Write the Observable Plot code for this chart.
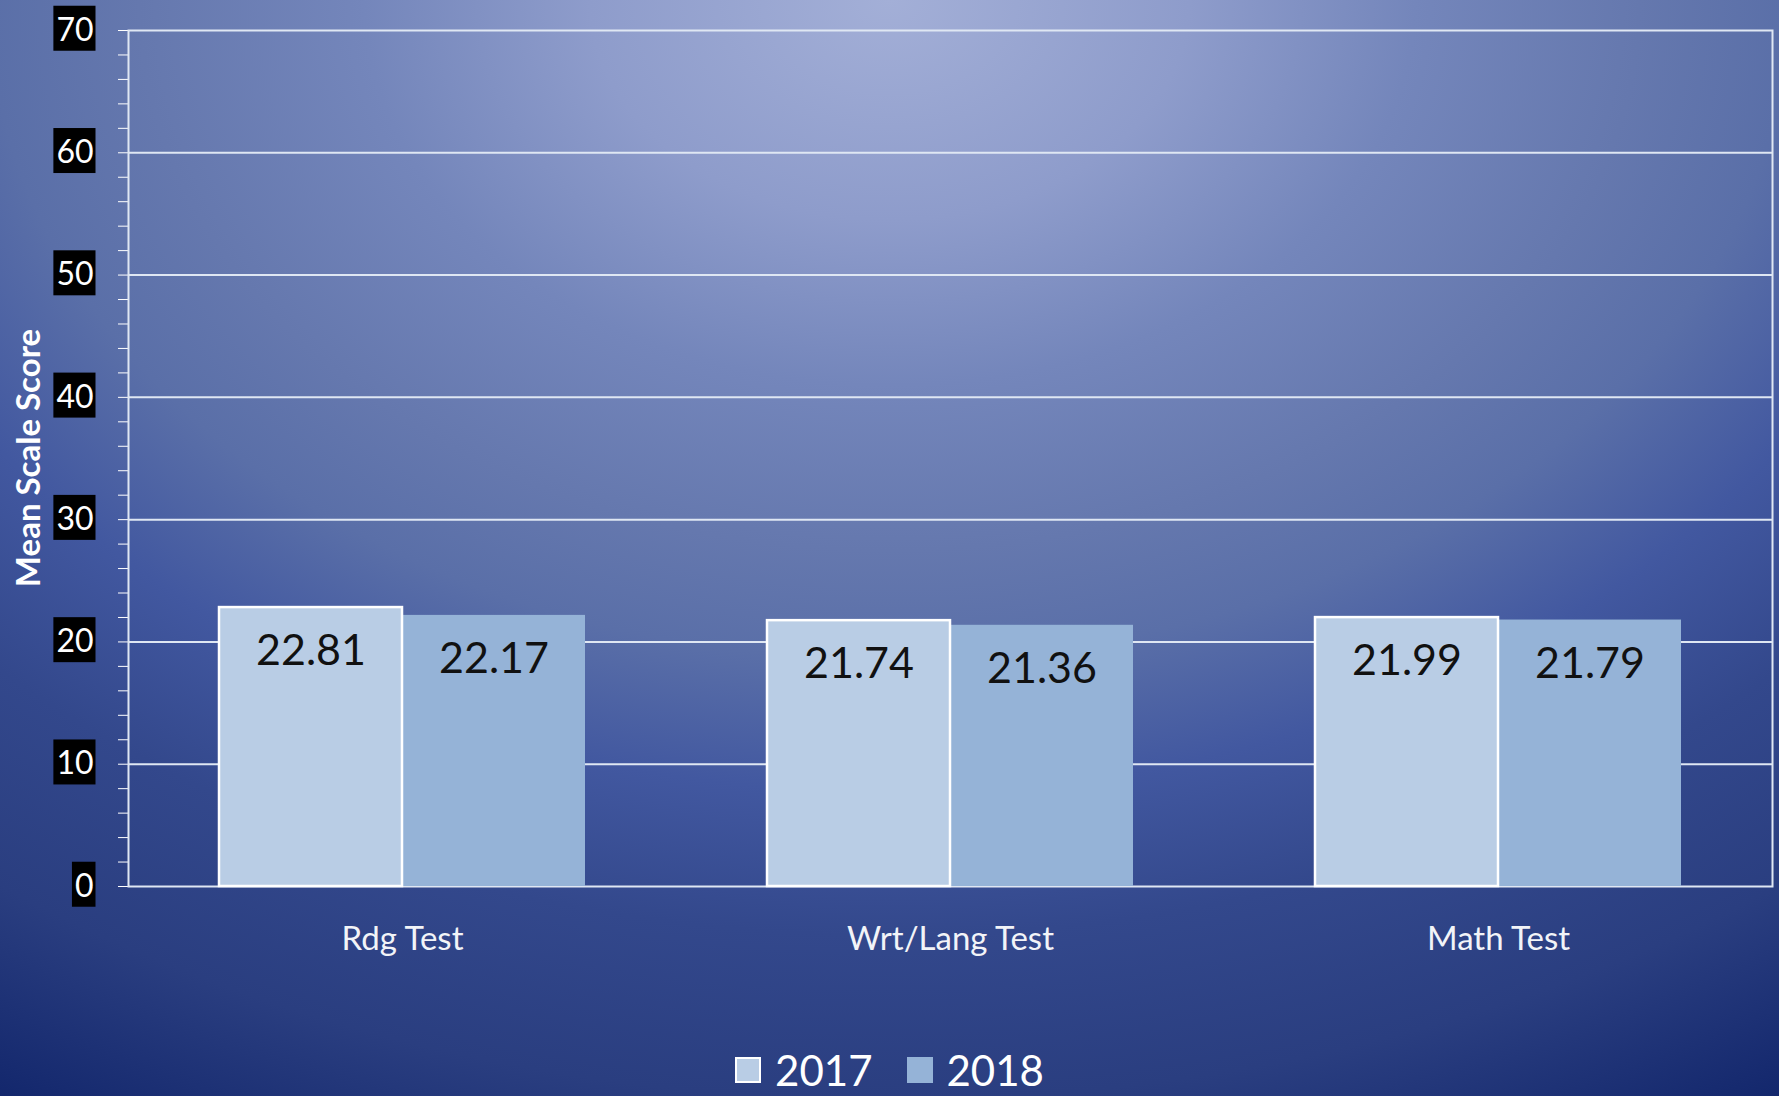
<!DOCTYPE html>
<html>
<head>
<meta charset="utf-8">
<script src="https://cdn.jsdelivr.net/npm/d3@7"></script>
<script src="https://cdn.jsdelivr.net/npm/@observablehq/plot@0.6"></script>
<style>
  html, body { margin: 0; padding: 0; overflow: hidden; }
  #wrap {
    position: relative; width: 1779px; height: 1096px; overflow: hidden;
    background: radial-gradient(ellipse 1500px 1100px at 50% 0%,
      #a3afd7 0%, #8e9ccb 20%, #7486bb 35%, #6578ae 50%, #5a6fa8 60%,
      #4258a0 72%, #33488c 85%, #2a3e80 100%, #10246a 118%);
    font-family: Lato, "Open Sans", sans-serif;
  }
  #wrap svg { position: absolute; left: 0; top: 0; background: transparent; overflow: visible; }
  #ytitle {
    position: absolute; left: 27px; top: 458px; transform: translate(-50%, -50%) rotate(-90deg);
    color: #ffffff; font-weight: 700; font-size: 33px; white-space: nowrap; line-height: 1;
  }
  #legend {
    position: absolute; left: 0; width: 1779px; top: 1049px; display: flex; justify-content: center;
    align-items: center; color: #ffffff; font-size: 42px; line-height: 1;
  }
  #legend .item { display: flex; align-items: center; }
  #legend .sw { width: 26px; height: 26px; margin-right: 14px; box-sizing: border-box; }
</style>
</head>
<body>
<div id="wrap"></div>
<script>
const categories = ["Rdg Test", "Wrt/Lang Test", "Math Test"];
const years = ["2017", "2018"];
const values2017 = [22.81, 21.74, 21.99];
const values2018 = [22.17, 21.36, 21.79];
const yTicks = [0, 10, 20, 30, 40, 50, 60, 70];
const yMinorTicks = d3.range(0, 71, 2);
const yTitle = "Mean Scale Score";
const colors = ["#b9cde5", "#95b3d7"];

const data = [];
categories.forEach((c, i) => {
  data.push({test: c, year: "2017", value: values2017[i]});
  data.push({test: c, year: "2018", value: values2018[i]});
});

const W = 1779, H = 1000;
const margins = {marginLeft: 128, marginRight: 7, marginTop: 30, marginBottom: 114};
const gridColor = "#dfe7f3";

// Base layer: frame, grid lines and y axis
const base = Plot.plot({
  width: W, height: H, ...margins,
  style: {background: "transparent", fontFamily: "Lato, sans-serif", color: "#ffffff"},
  y: {
    domain: [0, 70], ticks: yMinorTicks, tickSize: 10, tickPadding: 25,
    tickFormat: d => (d % 10 === 0 ? String(d) : ""), label: null
  },
  marks: [
    Plot.ruleY(yTicks.filter(d => d > 0 && d < 70), {stroke: gridColor, strokeWidth: 2}),
    Plot.frame({stroke: gridColor, strokeWidth: 2})
  ]
});

// Bars layer
const bars = Plot.plot({
  width: W, height: H, ...margins,
  style: {background: "transparent", fontFamily: "Lato, sans-serif", color: "#ffffff"},
  fx: {domain: categories, paddingInner: 0.332, paddingOuter: 0.166, label: null,
       tickSize: 0, tickPadding: 40},
  x: {domain: years, padding: 0, axis: null},
  y: {domain: [0, 70], axis: null},
  color: {domain: years, range: colors},
  marks: [
    Plot.barY(data.filter(d => d.year === "2018"), {fx: "test", x: "year", y: "value", fill: "year"}),
    Plot.barY(data.filter(d => d.year === "2017"), {fx: "test", x: "year", y: "value", fill: "year",
      stroke: "#ffffff", strokeWidth: 2.5}),
    Plot.text(data, {fx: "test", x: "year", y: "value", text: d => d.value.toFixed(2),
      dy: 44, fontSize: 43, fill: "#111111", lineAnchor: "middle"})
  ]
});

const wrap = document.getElementById("wrap");
wrap.appendChild(base);
wrap.appendChild(bars);

// style y tick labels: white text on black boxes
const ns = "http://www.w3.org/2000/svg";
const labels = Array.from(base.querySelectorAll("text")).filter(t => t.textContent.trim());
labels.forEach(t => {
  t.style.fontSize = "32px";
  t.setAttribute("fill", "#ffffff");
  t.setAttribute("stroke", "none");
});
labels.forEach(t => {
  const b = t.getBBox();
  const r = document.createElementNS(ns, "rect");
  r.setAttribute("x", b.x - 3);
  r.setAttribute("width", b.width + 5);
  r.setAttribute("y", b.y + b.height / 2 - 22.5);
  r.setAttribute("height", 45);
  r.setAttribute("fill", "#000000");
  r.setAttribute("stroke", "none");
  const tr = t.getAttribute("transform");
  if (tr) r.setAttribute("transform", tr);
  t.parentNode.insertBefore(r, t);
});
// fx labels styling
bars.querySelectorAll("text").forEach(t => {
  if (categories.includes(t.textContent)) {
    t.style.fontSize = "33px";
    t.setAttribute("fill", "#f2f4f8");
  }
});

const title = document.createElement("div");
title.id = "ytitle";
title.textContent = yTitle;
wrap.appendChild(title);

const legend = document.createElement("div");
legend.id = "legend";
years.forEach((y, i) => {
  const item = document.createElement("div");
  item.className = "item";
  if (i > 0) item.style.marginLeft = "34px";
  const sw = document.createElement("div");
  sw.className = "sw";
  sw.style.background = colors[i];
  if (i === 0) sw.style.border = "2px solid #ffffff";
  const lab = document.createElement("span");
  lab.textContent = y;
  item.appendChild(sw); item.appendChild(lab);
  legend.appendChild(item);
});
wrap.appendChild(legend);
</script>
</body>
</html>
